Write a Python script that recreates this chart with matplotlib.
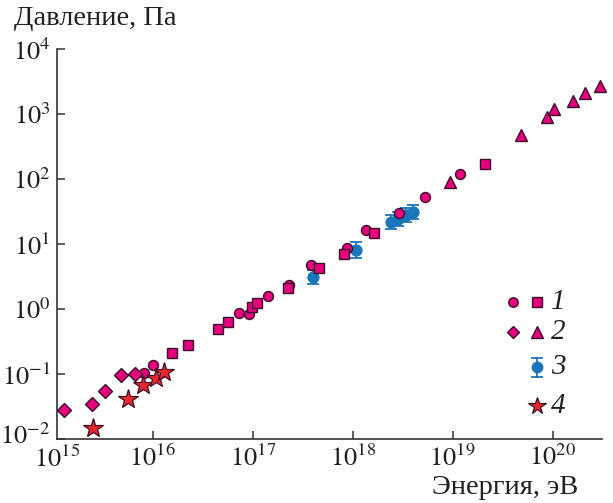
import matplotlib
matplotlib.use('Agg')
import matplotlib.pyplot as plt
from matplotlib.lines import Line2D
from matplotlib.ticker import NullLocator, FixedLocator, FuncFormatter
import matplotlib.transforms as mtrans
import math

plt.rcParams['font.family'] = ['Liberation Serif', 'DejaVu Serif']
plt.rcParams['mathtext.fontset'] = 'stix'
SERIF = ['Liberation Serif', 'DejaVu Serif']

# ---------------- data ----------------
# series 1: circles
e1_circ = [8.18e15, 1.007e16, 7.24e16, 9.18e16, 1.43e17, 2.29e17, 3.80e17,
           8.71e17, 1.35e18, 2.90e18, 5.25e18, 1.18e19]
p1_circ = [0.1026, 0.136, 0.859, 0.838, 1.585, 2.37, 4.70,
           8.77, 16.4, 30.3, 52.8, 118]
# series 1: squares
e1_sq = [1.56e16, 2.24e16, 4.47e16, 5.62e16, 9.84e16, 1.10e17, 2.25e17,
         4.63e17, 8.18e17, 1.63e18, 2.09e19]
p1_sq = [0.213, 0.277, 0.498, 0.631, 1.08, 1.25, 2.08,
         4.28, 7.01, 14.9, 168]
# series 2: diamonds
e2_dia = [1.31e15, 2.49e15, 3.33e15, 4.85e15, 6.65e15]
p2_dia = [0.0279, 0.0345, 0.0553, 0.0975, 0.1009]
# series 2: triangles
e2_tri = [9.40e18, 4.85e19, 8.71e19, 1.04e20, 1.61e20, 2.10e20, 2.99e20]
p2_tri = [88.9, 470, 908, 1208, 1567, 2080, 2723]
# series 3: with error bars
e3 = [3.98e17, 1.08e18, 2.42e18, 2.84e18, 3.41e18, 4.01e18]
p3 = [3.10, 8.09, 21.8, 24.3, 27.9, 31.0]
p3_lo = [2.44, 6.08, 17.0, 19.0, 21.8, 24.2]
p3_hi = [3.94, 10.8, 27.9, 31.1, 35.7, 39.7]
# series 4: stars
e4 = [2.55e15, 5.62e15, 8.05e15, 1.08e16, 1.31e16]
p4 = [0.0146, 0.0408, 0.0678, 0.0859, 0.108]

x_ticks = [1e15, 1e16, 1e17, 1e18, 1e19, 1e20]
y_ticks = [1e-2, 1e-1, 1e0, 1e1, 1e2, 1e3, 1e4]
legend_labels = ['1', '2', '3', '4']
x_label = 'Энергия, эВ'
y_label = 'Давление, Па'

# ---------------- style ----------------
PINK = '#E5007E'
EDGE = '#3a1028'
BLUE = '#1B75BB'
RED = '#E8262B'
AXC = '#333333'
TXT = '#231F20'
FS_TICK = 19
FS_LAB = 20.5

def pow_fmt(v, pos=None):
    return r'$10^{%d}$' % int(round(math.log10(v)))

W, H = 613, 503
fig = plt.figure(figsize=(W / 100, H / 100), dpi=100)
L, R, B, T = 56.7, 602, 439, 49
ax = fig.add_axes([L / W, 1 - B / H, (R - L) / W, (B - T) / H])
ax.set_xscale('log')
ax.set_yscale('log')
ax.set_xlim(10 ** 15.04, 10 ** 20.493)
ax.set_ylim(1e-2, 1e4)

for s in ['top', 'right']:
    ax.spines[s].set_visible(False)
for s in ['left', 'bottom']:
    ax.spines[s].set_color(AXC)
    ax.spines[s].set_linewidth(1.2)

ax.xaxis.set_major_locator(FixedLocator(x_ticks[1:]))
ax.yaxis.set_major_locator(FixedLocator(y_ticks))
ax.xaxis.set_minor_locator(NullLocator())
ax.yaxis.set_minor_locator(NullLocator())
ax.xaxis.set_major_formatter(FuncFormatter(pow_fmt))
ax.yaxis.set_major_formatter(FuncFormatter(pow_fmt))
ax.tick_params(direction='in', length=6, width=1.1, color=AXC,
               labelsize=FS_TICK, labelcolor=TXT)
ax.tick_params(axis='x', pad=4)
ax.tick_params(axis='y', pad=4.5)

# 10^15 label sits at the axis corner
ax.annotate(pow_fmt(x_ticks[0]), xy=(0, 0), xycoords='axes fraction',
            xytext=(0, -5), textcoords='offset points',
            ha='center', va='top', fontsize=FS_TICK, color=TXT)

fig.canvas.draw()
# lift lowest y tick label slightly (as in the reference)
ylabels = ax.yaxis.get_ticklabels()
if ylabels:
    lab = ylabels[0]
    lab.set_transform(lab.get_transform() +
                      mtrans.ScaledTranslation(0, 4 / 72, fig.dpi_scale_trans))

ms = 7.2
ax.errorbar(e3, p3, yerr=[[p - lo for p, lo in zip(p3, p3_lo)],
                          [hi - p for p, hi in zip(p3, p3_hi)]],
            fmt='o', color=BLUE, mec=BLUE, ms=ms + 0.6, elinewidth=1.3,
            capsize=4.5, capthick=1.3, zorder=2, clip_on=False)
ax.plot(e1_circ, p1_circ, 'o', color=PINK, mec=EDGE, mew=1.0, ms=ms, zorder=3, clip_on=False)
ax.plot(e1_sq, p1_sq, 's', color=PINK, mec=EDGE, mew=1.0, ms=ms, zorder=4, clip_on=False)
ax.plot(e2_dia, p2_dia, 'D', color=PINK, mec=EDGE, mew=1.0, ms=ms - 0.4, zorder=3, clip_on=False)
ax.plot(e2_tri, p2_tri, '^', color=PINK, mec=EDGE, mew=1.0, ms=ms + 1.2, zorder=3, clip_on=False)
ax.plot(e4, p4, '*', color=RED, mec=EDGE, mew=0.9, ms=14.5, zorder=5, clip_on=False)

# axis labels
fig.text(13.5 / W, 1 - 25 / H, y_label, ha='left', va='baseline',
         fontsize=FS_LAB, color=TXT, family=SERIF)
fig.text(578 / W, 1 - 494 / H, x_label, ha='right', va='baseline',
         fontsize=FS_LAB, color=TXT, family=SERIF)

# manual legend
tf = fig.transFigure
def fx(x):
    return x / W
def fy(y):
    return 1 - y / H

rows = [302.3, 332.3, 367.3, 405.7]
c1, c2, tx = 512.7, 537.3, 551
def mk(x, y, **kw):
    fig.add_artist(Line2D([fx(x)], [fy(y)], transform=tf, linestyle='none', **kw))

mk(c1, rows[0], marker='o', color=PINK, mec=EDGE, mew=1.0, ms=6.8)
mk(c2, rows[0], marker='s', color=PINK, mec=EDGE, mew=1.0, ms=6.8)
mk(c1, rows[1], marker='D', color=PINK, mec=EDGE, mew=1.0, ms=6.2)
mk(c2, rows[1], marker='^', color=PINK, mec=EDGE, mew=1.0, ms=8)
# errorbar symbol
fig.add_artist(Line2D([fx(c2), fx(c2)], [fy(rows[2] - 9.5), fy(rows[2] + 9.5)],
                      transform=tf, color=BLUE, lw=1.3))
mk(c2, rows[2] - 9.5, marker='_', color=BLUE, ms=8, mew=1.3)
mk(c2, rows[2] + 9.5, marker='_', color=BLUE, ms=8, mew=1.3)
mk(c2, rows[2], marker='o', color=BLUE, mec=BLUE, ms=7.5)
mk(c2, rows[3], marker='*', color=RED, mec=EDGE, mew=0.9, ms=13)
for y, lab in zip(rows, legend_labels):
    fig.text(fx(tx), fy(y), lab, ha='left', va='center', fontsize=21,
             style='italic', color=TXT, family=SERIF)

fig.savefig('out.png', dpi=100)
